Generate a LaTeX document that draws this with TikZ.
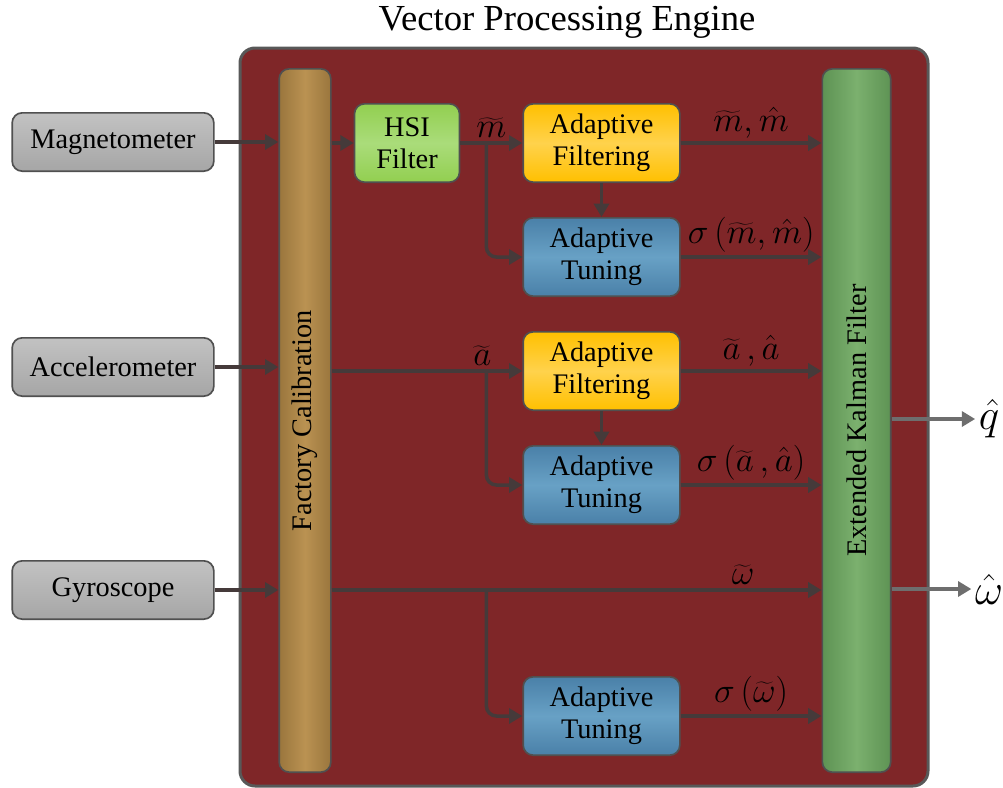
\documentclass[tikz,border=0pt]{standalone}
\usepackage{fix-cm}
\usepackage{fontspec}
\setmainfont{Liberation Serif}
\usetikzlibrary{arrows.meta,positioning,calc}

\definecolor{engred}{HTML}{7F2628}
\definecolor{engrim}{HTML}{585858}
\definecolor{wire}{HTML}{453A3A}
\definecolor{outwire}{HTML}{6E6E6E}
\definecolor{boxrim}{HTML}{505050}
\definecolor{sensgray}{HTML}{A6A6A6}
\definecolor{sensgraylt}{HTML}{C2C2C2}
\definecolor{calbrown}{HTML}{9A763D}
\definecolor{calbrownlt}{HTML}{BA9252}
\definecolor{kalgreen}{HTML}{5E9354}
\definecolor{kalgreenlt}{HTML}{7BB06E}
\definecolor{hsigreen}{HTML}{92CF50}
\definecolor{hsigreenlt}{HTML}{AADC7A}
\definecolor{filtyel}{HTML}{FFC000}
\definecolor{filtyellt}{HTML}{FFD24C}
\definecolor{tuneblue}{HTML}{4A80A8}
\definecolor{tunebluelt}{HTML}{68A1C5}

\tikzset{
  block/.style={draw=boxrim,line width=1pt,rounded corners=6pt,align=center,
    font=\fontsize{17}{19}\selectfont,inner sep=2pt},
  sensor/.style={block,top color=sensgraylt,bottom color=sensgray,minimum width=121pt,minimum height=35pt},
  filt/.style={block,top color=#1,bottom color=#1,middle color=#1lt,minimum width=94pt,minimum height=47pt},
  bar/.style={block,left color=#1,right color=#1,middle color=#1lt,minimum height=422pt},
  wire/.style={draw=wire,line width=2.1pt,-{Triangle[length=8pt,width=9pt]}},
  lbl/.style={font=\fontsize{21}{24}\selectfont,inner sep=2pt}
}

\begin{document}
\begin{tikzpicture}[x=0.6pt,y=-0.6pt,node distance=20.4pt]
\useasboundingbox (0,0) rectangle (1003,788);

% engine frame
\node[font=\fontsize{22}{26}\selectfont] (title) at (567,22) {Vector Processing Engine};
\draw[fill=engred,draw=engrim,line width=1.8pt,rounded corners=9pt] (240,48) rectangle (928,786);

% sensors
\node[sensor] (mag) at (113,142) {Magnetometer};
\node[sensor] (acc) at (113,367) {Accelerometer};
\node[sensor] (gyro) at (113,590) {Gyroscope};

% calibration and kalman bars
\node[bar=calbrown,minimum width=31pt,
  label={[rotate=90,font=\fontsize{17}{19}\selectfont]center:Factory Calibration}] (fc) at (305,420.5) {};
\node[bar=kalgreen,minimum width=41pt,
  label={[rotate=90,font=\fontsize{17}{19}\selectfont]center:Extended Kalman Filter}] (ekf) at (856.5,420.5) {};

% processing blocks
\node[filt=filtyel] (af1) at (601.5,143) {Adaptive\\Filtering};
\node[filt=hsigreen,minimum width=63pt,left=37.2pt of af1] (hsi) {HSI\\Filter};
\node[filt=tuneblue] (at1) [below=of af1] {Adaptive\\Tuning};
\node[filt=filtyel] (af2) [below=of at1] {Adaptive\\Filtering};
\node[filt=tuneblue] (at2) [below=of af2] {Adaptive\\Tuning};
\node[filt=tuneblue] (at3) [below=90.6pt of at2] {Adaptive\\Tuning};

% outputs
\node[font=\fontsize{26}{30}\selectfont,inner sep=2pt] (qout) at (989,419) {$\hat q$};
\node[font=\fontsize{26}{30}\selectfont,inner sep=2pt] (wout) at (989,589) {$\hat\omega$};

% sensor inputs
\draw[wire] (mag) -- (mag -| fc.west);
\draw[wire] (acc) -- (acc -| fc.west);
\draw[wire] (gyro) -- (gyro -| fc.west);

% magnetometer path
\draw[wire] (fc.east |- hsi) -- (hsi);
\draw[wire] (hsi) -- node[lbl,above]{$\widetilde m$} (af1);
\coordinate (mb) at ($(hsi.east)!0.42!(af1.west)$);
\draw[wire,rounded corners=6pt] (mb) |- (at1);
\draw[wire] (af1) -- (at1);
\draw[wire] (af1) -- node[lbl,above]{$\widetilde m,\hat m$} (af1 -| ekf.west);
\draw[wire] (at1) -- node[lbl,above]{$\sigma\left(\widetilde m,\hat m\right)$} (at1 -| ekf.west);

% accelerometer path
\draw[wire] (fc.east |- af2) -- node[lbl,above,pos=0.79]{$\widetilde a$} (af2);
\draw[wire,rounded corners=6pt] (mb |- af2) |- (at2);
\draw[wire] (af2) -- (at2);
\draw[wire] (af2) -- node[lbl,above]{$\widetilde a\,,\hat a$} (af2 -| ekf.west);
\draw[wire] (at2) -- node[lbl,above]{$\sigma\left(\widetilde a\,,\hat a\right)$} (at2 -| ekf.west);

% gyroscope path
\draw[wire] (fc.east |- gyro) -- node[lbl,above,pos=0.84]{$\widetilde\omega$} (gyro -| ekf.west);
\draw[wire,rounded corners=6pt] (mb |- gyro) |- (at3);
\draw[wire] (at3) -- node[lbl,above]{$\sigma\left(\widetilde\omega\right)$} (at3 -| ekf.west);

% filter outputs
\draw[wire,draw=outwire] (ekf.east |- qout) -- (qout);
\draw[wire,draw=outwire] (ekf.east |- wout) -- (wout);
\end{tikzpicture}
\end{document}
